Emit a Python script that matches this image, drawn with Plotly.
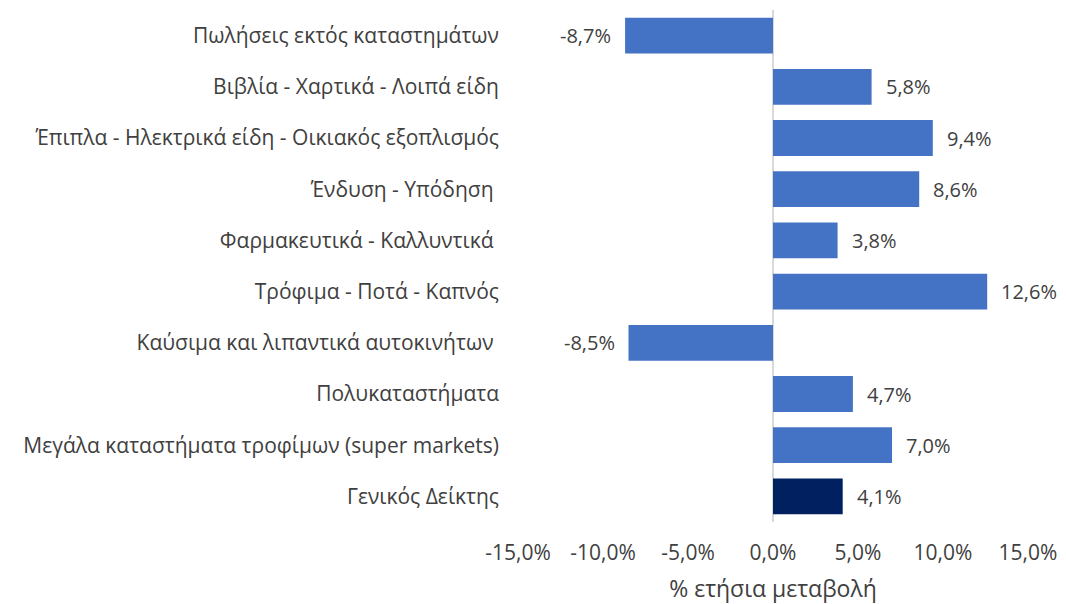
import plotly.graph_objects as go

categories = [
    "Πωλήσεις εκτός καταστημάτων",
    "Βιβλία - Χαρτικά - Λοιπά είδη",
    "Έπιπλα - Ηλεκτρικά είδη - Οικιακός εξοπλισμός",
    "Ένδυση - Υπόδηση\u00a0",
    "Φαρμακευτικά - Καλλυντικά\u00a0",
    "Τρόφιμα - Ποτά - Καπνός",
    "Καύσιμα και λιπαντικά αυτοκινήτων\u00a0",
    "Πολυκαταστήματα",
    "Μεγάλα καταστήματα τροφίμων (super markets)",
    "Γενικός Δείκτης",
]
values = [-8.7, 5.8, 9.4, 8.6, 3.8, 12.6, -8.5, 4.7, 7.0, 4.1]
bar_colors = ["#4472C4"] * 9 + ["#002060"]
tick_vals = [-15, -10, -5, 0, 5, 10, 15]
tick_text = ["-15,0%", "-10,0%", "-5,0%", "0,0%", "5,0%", "10,0%", "15,0%"]
x_title = "% ετήσια μεταβολή"

FONT = "Open Sans"
TXT = "#404040"
FS = 21

def fmt(v):
    return ("%.1f" % v).replace(".", ",") + "%"

fig = go.Figure()
fig.add_trace(go.Bar(
    x=values, y=categories, orientation="h",
    marker=dict(color=bar_colors, line=dict(width=0)),
    hoverinfo="skip",
))

for v, c in zip(values, categories):
    fig.add_annotation(
        x=v, y=c, text=fmt(v), showarrow=False,
        xanchor="left" if v >= 0 else "right",
        xshift=12 if v >= 0 else -12,
        font=dict(family=FONT, size=20, color=TXT),
    )

# page body has an 8px default margin; figure is sized/offset to compensate
fig.update_layout(
    width=1058, height=596,
    margin=dict(l=510, r=38, t=2, b=82, autoexpand=False),
    paper_bgcolor="white", plot_bgcolor="white",
    showlegend=False, bargap=0.3,
    font=dict(family=FONT, size=FS, color=TXT),
)
fig.update_xaxes(
    range=[-15, 15], tickvals=tick_vals, ticktext=tick_text,
    showgrid=False, zeroline=True, zerolinecolor="#D9D9D9", zerolinewidth=2,
    showline=False, ticks="", ticklabelstandoff=16, automargin=False,
    tickfont=dict(family=FONT, size=FS, color=TXT),
    title=dict(text=x_title, font=dict(family=FONT, size=23, color=TXT), standoff=16),
)
fig.update_yaxes(
    autorange="reversed", showgrid=False, showline=False, ticks="",
    ticklabelstandoff=18, automargin=False,
    tickfont=dict(family=FONT, size=FS, color=TXT),
)

fig.write_html("out.html")
